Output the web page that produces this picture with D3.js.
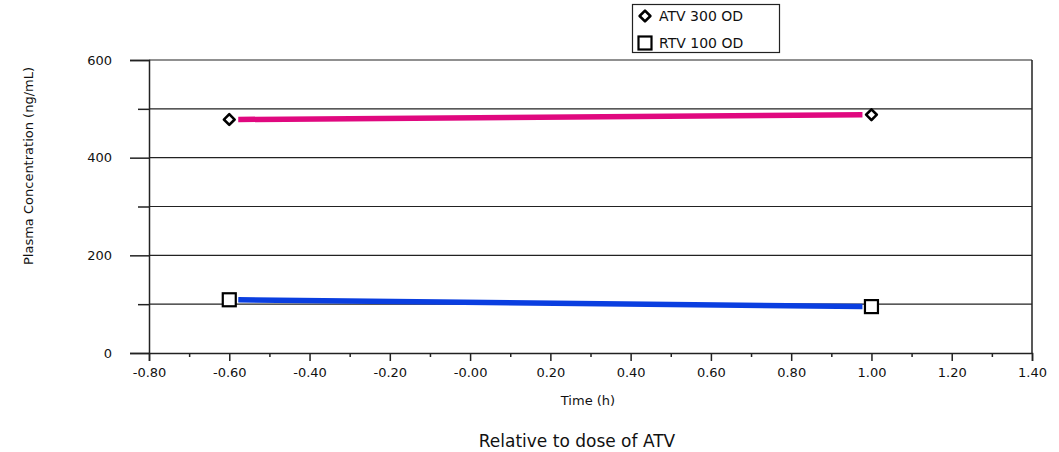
<!DOCTYPE html>
<html>
<head>
<meta charset="utf-8">
<script src="https://cdn.jsdelivr.net/npm/d3@7"></script>
<style>
    body { margin: 0; background: #fff; }
    svg { display: block; }
</style>
</head>
<body>
<div class="grafik"></div>
<script>
// данные с графика
const times = [-0.6, 1.0];
const atvValues = [478, 488];
const rtvValues = [109, 95];
const xTicks = [-0.8, -0.6, -0.4, -0.2, 0, 0.2, 0.4, 0.6, 0.8, 1.0, 1.2, 1.4];
const yTicks = [0, 200, 400, 600];
const seriesNames = ["ATV 300 OD", "RTV 100 OD"];
const seriesColors = ["#e0087f", "#0a3ee0"];

const width = 1059;
const height = 452;
const margin = { left: 149, right: 27, top: 60, bottom: 99 };

const svg = d3.select(".grafik")
    .append("svg")
    .attr("width", width)
    .attr("height", height)
    .style("font-family", "'DejaVu Sans', Verdana, sans-serif");

const x = d3.scaleLinear()
    .domain([-0.8, 1.4])
    .range([margin.left, width - margin.right]);

const y = d3.scaleLinear()
    .domain([0, 600])
    .range([height - margin.bottom, margin.top]);

// сетка через каждые 100
svg.append("g")
    .selectAll("line")
    .data(d3.range(100, 601, 100))
    .enter().append("line")
    .attr("x1", x(-0.8))
    .attr("x2", x(1.4))
    .attr("y1", d => y(d))
    .attr("y2", d => y(d))
    .attr("stroke", "#222")
    .attr("stroke-width", 1.2);

// правая граница
svg.append("line")
    .attr("x1", x(1.4)).attr("x2", x(1.4))
    .attr("y1", y(600)).attr("y2", y(0))
    .attr("stroke", "#222")
    .attr("stroke-width", 1.5);

// ось Y
svg.append("g")
    .attr("transform", `translate(${margin.left},0)`)
    .call(d3.axisLeft(y).tickValues(yTicks).tickSize(19).tickPadding(18).tickFormat(d => String(d)));
svg.append("g")
    .attr("transform", `translate(${margin.left},0)`)
    .call(d3.axisLeft(y).tickValues([100, 300, 500]).tickSize(11).tickFormat(""))
    .select(".domain").remove();

// ось X (обычный дефис, как в оригинале)
svg.append("g")
    .attr("transform", `translate(0,${y(0)})`)
    .call(d3.axisBottom(x).tickValues(xTicks).tickSize(8).tickPadding(7)
        .tickFormat(d => (Math.abs(d) < 1e-9 ? "-0.00" : d.toFixed(2))));
svg.append("g")
    .attr("transform", `translate(0,${y(0)})`)
    .call(d3.axisBottom(x).tickValues(d3.range(-0.7, 1.4, 0.2)).tickSize(4).tickFormat(""))
    .select(".domain").remove();

svg.selectAll(".domain").attr("stroke", "#222").attr("stroke-width", 1.5);
svg.selectAll(".tick line").attr("stroke", "#222").attr("stroke-width", 1.5);
svg.selectAll(".tick text")
    .attr("fill", "#111")
    .style("font-family", "'DejaVu Sans', Verdana, sans-serif")
    .style("font-size", "13px");

// подписи осей
svg.append("text")
    .attr("x", 588)
    .attr("y", 405)
    .attr("text-anchor", "middle")
    .style("font-size", "13px")
    .attr("fill", "#111")
    .text("Time (h)");

svg.append("text")
    .attr("transform", `translate(33, 166) rotate(-90)`)
    .attr("text-anchor", "middle")
    .style("font-size", "13px")
    .attr("fill", "#111")
    .text("Plasma Concentration (ng/mL)");

svg.append("text")
    .attr("x", 577)
    .attr("y", 447)
    .attr("text-anchor", "middle")
    .style("font-size", "17px")
    .attr("fill", "#111")
    .text("Relative to dose of ATV");

// линии серий, с зазором у маркеров
function shortLine(vals, gap) {
    const x0 = x(times[0]), y0 = y(vals[0]);
    const x1 = x(times[1]), y1 = y(vals[1]);
    const len = Math.hypot(x1 - x0, y1 - y0);
    const dx = (x1 - x0) / len, dy = (y1 - y0) / len;
    return [[x0 + dx * gap, y0 + dy * gap], [x1 - dx * gap, y1 - dy * gap]];
}

[atvValues, rtvValues].forEach((vals, i) => {
    svg.append("path")
        .attr("d", d3.line()(shortLine(vals, 9)))
        .attr("stroke", seriesColors[i])
        .attr("stroke-width", 5.5)
        .attr("fill", "none");
});

// маркеры
function drawDiamond(g, cx, cy) {
    g.append("rect")
        .attr("x", -3.8).attr("y", -3.8)
        .attr("width", 7.6).attr("height", 7.6)
        .attr("transform", `translate(${cx},${cy}) rotate(45)`)
        .attr("fill", "#fff")
        .attr("stroke", "#000")
        .attr("stroke-width", 2.6)
        .attr("stroke-linejoin", "round");
}
function drawSquare(g, cx, cy) {
    g.append("rect")
        .attr("x", cx - 6.5).attr("y", cy - 6.5)
        .attr("width", 13).attr("height", 13)
        .attr("fill", "#fff")
        .attr("stroke", "#000")
        .attr("stroke-width", 2.2);
}

times.forEach((t, i) => {
    drawDiamond(svg, x(t), y(atvValues[i]));
    drawSquare(svg, x(t), y(rtvValues[i]));
});

// легенда
const legend = svg.append("g");
legend.append("rect")
    .attr("x", 632.5).attr("y", 4.5)
    .attr("width", 147).attr("height", 48)
    .attr("fill", "#fff")
    .attr("stroke", "#222")
    .attr("stroke-width", 1.2);

drawDiamond(legend, 645, 16);
drawSquare(legend, 645, 43);

seriesNames.forEach((name, i) => {
    legend.append("text")
        .attr("x", 659)
        .attr("y", 21 + i * 27)
        .style("font-size", "14px")
        .attr("fill", "#111")
        .text(name);
});
</script>
</body>
</html>
